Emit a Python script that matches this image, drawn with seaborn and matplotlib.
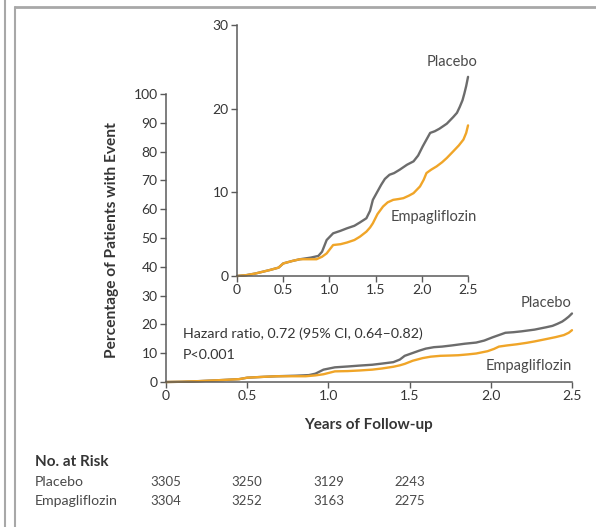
import numpy as np
import pandas as pd
import seaborn as sns
import matplotlib.pyplot as plt
from matplotlib.lines import Line2D

# --- data (years, cumulative % with event) ---
placebo_years = [0, 0.1, 0.2, 0.35, 0.45, 0.5, 0.6, 0.68, 0.8, 0.88, 0.92, 0.97, 1.04,
                 1.12, 1.19, 1.27, 1.33, 1.40, 1.44, 1.47, 1.52, 1.56, 1.60, 1.65, 1.70,
                 1.76, 1.84, 1.91, 1.96, 2.01, 2.05, 2.09, 2.14, 2.19, 2.27, 2.34, 2.38,
                 2.41, 2.44, 2.46, 2.48, 2.5]
placebo_pct = [0, 0.1, 0.3, 0.7, 1.0, 1.5, 1.8, 2.0, 2.2, 2.4, 2.9, 4.3, 5.1,
               5.4, 5.7, 6.0, 6.4, 6.9, 7.8, 9.1, 10.1, 10.9, 11.6, 12.1, 12.3,
               12.7, 13.3, 13.7, 14.4, 15.5, 16.3, 17.1, 17.3, 17.6, 18.2, 19.0, 19.5,
               20.2, 21.0, 21.8, 22.7, 23.8]
empa_years = [0, 0.1, 0.2, 0.35, 0.45, 0.5, 0.6, 0.68, 0.8, 0.86, 0.92, 0.97, 1.04,
              1.12, 1.19, 1.27, 1.33, 1.40, 1.44, 1.47, 1.52, 1.58, 1.63, 1.69, 1.75,
              1.80, 1.86, 1.91, 1.98, 2.02, 2.05, 2.10, 2.16, 2.22, 2.27, 2.34, 2.40,
              2.45, 2.48, 2.5]
empa_pct = [0, 0.1, 0.3, 0.7, 1.0, 1.5, 1.8, 2.0, 2.0, 2.0, 2.3, 2.7, 3.7,
            3.8, 4.0, 4.3, 4.7, 5.3, 5.8, 6.3, 7.4, 8.3, 8.8, 9.1, 9.2,
            9.3, 9.6, 9.9, 10.7, 11.5, 12.3, 12.7, 13.1, 13.6, 14.1, 14.9, 15.6,
            16.3, 17.1, 18.0]

x_ticks = [0, 0.5, 1.0, 1.5, 2.0, 2.5]
x_tick_labels = ["0", "0.5", "1.0", "1.5", "2.0", "2.5"]
main_y_ticks = list(range(0, 101, 10))
inset_y_ticks = [0, 10, 20, 30]

risk_groups = ["Placebo", "Empagliflozin"]
risk_times = [0, 0.5, 1.0, 1.5]
risk_placebo = [3305, 3250, 3129, 2243]
risk_empa = [3304, 3252, 3163, 2275]

GRAY = "#6c6c6c"
ORANGE = "#f0a528"
AXIS = "#5a5a5a"
TEXT = "#353535"
LABEL = "#4a4a4a"

sns.set_style("ticks")
plt.rcParams["font.family"] = ["Lato", "DejaVu Sans"]

df = pd.concat([
    pd.DataFrame({"years": placebo_years, "pct": placebo_pct, "group": "Placebo"}),
    pd.DataFrame({"years": empa_years, "pct": empa_pct, "group": "Empagliflozin"}),
])
palette = {"Placebo": GRAY, "Empagliflozin": ORANGE}


def style_axes(ax, yticks):
    sns.despine(ax=ax)
    for s in ("left", "bottom"):
        ax.spines[s].set_color(AXIS)
        ax.spines[s].set_linewidth(1.1)
    ax.set_xticks(x_ticks)
    ax.set_xticklabels(x_tick_labels)
    ax.set_yticks(yticks)
    ax.tick_params(colors=AXIS, labelcolor=TEXT, labelsize=10, length=4, width=1.0, pad=2)
    ax.set_xlabel("")
    ax.set_ylabel("")
    ax.set_facecolor("none")


fig = plt.figure(figsize=(5.96, 5.27), dpi=100)

# main axes
ax = fig.add_axes([0.2785, 0.2751, 0.6812, 0.5465])
sns.lineplot(data=df, x="years", y="pct", hue="group", palette=palette,
             linewidth=1.7, legend=False, ax=ax, clip_on=False)
ax.set_xlim(0, 2.5)
ax.set_ylim(0, 100)
style_axes(ax, main_y_ticks)
ax.set_xlabel("Years of Follow-up", fontsize=11, fontweight="bold", color=TEXT, labelpad=11)
ax.text(2.5, 27.4, "Placebo", ha="right", va="center", fontsize=10.5, color=LABEL)
ax.text(2.5, 5.6, "Empagliflozin", ha="right", va="center", fontsize=10.5, color=LABEL)
ax.text(0.105, 16.8, "Hazard ratio, 0.72 (95% CI, 0.64\u20130.82)", ha="left", va="center",
        fontsize=10.3, color=TEXT)
ax.text(0.105, 9.4, "P<0.001", ha="left", va="center", fontsize=10.3, color=TEXT)

# inset axes
ins = fig.add_axes([0.3977, 0.4763, 0.3876, 0.4763])
sns.lineplot(data=df, x="years", y="pct", hue="group", palette=palette,
             linewidth=1.7, legend=False, ax=ins, clip_on=False)
ins.set_xlim(0, 2.5)
ins.set_ylim(0, 30)
style_axes(ins, inset_y_ticks)
ins.text(2.6, 25.6, "Placebo", ha="right", va="center", fontsize=10.5, color=LABEL)
ins.text(2.6, 7.0, "Empagliflozin", ha="right", va="center", fontsize=10.5, color=LABEL)

fig.text(112 / 596, 1 - 240 / 527, "Percentage of Patients with Event", rotation=90,
         ha="center", va="center", fontsize=11.2, fontweight="bold", color=TEXT)

# number at risk table
fig.text(35 / 596, 1 - 462 / 527, "No. at Risk", ha="left", va="center",
         fontsize=11, fontweight="bold", color=TEXT)
row_y = [1 - 482 / 527, 1 - 501 / 527]
for label, counts, yy in zip(risk_groups, [risk_placebo, risk_empa], row_y):
    fig.text(35 / 596, yy, label, ha="left", va="center", fontsize=10.2, color=LABEL)
    for t, n in zip(risk_times, counts):
        xd = fig.transFigure.inverted().transform(ax.transData.transform((t, 0)))[0]
        fig.text(xd, yy, str(n), ha="center", va="center", fontsize=9.5, color=LABEL)

# panel frame
fig.add_artist(Line2D([5 / 596, 5 / 596], [0, 1], color="#a8a8a8", lw=1.5, transform=fig.transFigure))
fig.add_artist(Line2D([15 / 596, 15 / 596], [0, 1 - 7 / 527], color="#a8a8a8", lw=1.5, transform=fig.transFigure))
fig.add_artist(Line2D([15 / 596, 1], [1 - 7 / 527, 1 - 7 / 527], color="#a8a8a8", lw=2, transform=fig.transFigure))

fig.savefig("out.png", dpi=100)
